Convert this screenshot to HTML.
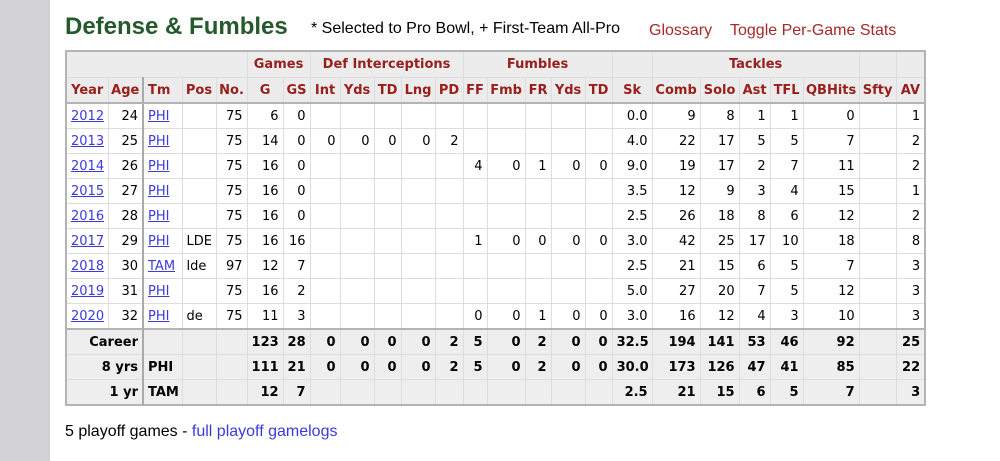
<!DOCTYPE html>
<html><head><meta charset="utf-8"><style>
body{margin:0;width:1000px;height:461px;background:#fff;position:relative;overflow:hidden;font-family:"DejaVu Sans","Liberation Sans",sans-serif;}
.bar{position:absolute;left:0;top:0;width:50px;height:461px;background:#d2d2d4;}
h2{position:absolute;left:65px;top:13px;margin:0;font:bold 24px "Liberation Sans",sans-serif;color:#245a2c;}
.note{position:absolute;left:311px;top:20px;font:16px "Liberation Sans",sans-serif;color:#000;}
.gl{position:absolute;left:649px;top:22px;font:16px "Liberation Sans",sans-serif;color:#a52a2a;}
.tg{position:absolute;left:730px;top:22px;font:16px "Liberation Sans",sans-serif;color:#a52a2a;}
table{position:absolute;left:65px;top:50px;border-collapse:collapse;table-layout:fixed;width:859px;border:2px solid #b4b4b4;font-size:13px;}
td,th{border:1px solid #ddd;padding:0 4px;height:24px;text-align:right;white-space:nowrap;overflow:hidden;}
th{background:#ececec;color:#9a1e1a;font-weight:bold;font-size:13px;padding:0 2px;}
tr.o th{text-align:center;height:25px;}
tr.h th{text-align:center;height:24px;border-bottom:2px solid #b4b4b4;}
td.l{text-align:left}
td a,td.l a{color:#3a3ae0;text-decoration:underline}
.sep{border-right:2px solid #aaa}
tr.f td{background:#eee;font-weight:bold;}
tr.f1 td{border-top:2px solid #b4b4b4}
.po{position:absolute;left:65px;top:423px;font:16px "Liberation Sans",sans-serif;}
.po a{color:#3a3ae0}
</style></head><body>
<div class="bar"></div>
<h2>Defense &amp; Fumbles</h2>
<div class="note">* Selected to Pro Bowl, + First-Team All-Pro</div>
<div class="gl">Glossary</div><div class="tg">Toggle Per-Game Stats</div>
<table>
<colgroup><col style="width:42px"><col style="width:35px"><col style="width:39px"><col style="width:34px"><col style="width:31px"><col style="width:36px"><col style="width:27px"><col style="width:30px"><col style="width:34px"><col style="width:27px"><col style="width:34px"><col style="width:28px"><col style="width:24px"><col style="width:38px"><col style="width:26px"><col style="width:34px"><col style="width:27px"><col style="width:40px"><col style="width:48px"><col style="width:39px"><col style="width:31px"><col style="width:33px"><col style="width:56px"><col style="width:37px"><col style="width:29px"></colgroup>
<tr class="o"><th colspan="5"></th><th colspan="2">Games</th><th colspan="5">Def Interceptions</th><th colspan="5">Fumbles</th><th></th><th colspan="5">Tackles</th><th></th><th></th></tr>
<tr class="h"><th>Year</th><th class="sep">Age</th><th style="text-align:left;padding-left:4px">Tm</th><th>Pos</th><th>No.</th><th>G</th><th>GS</th><th>Int</th><th>Yds</th><th>TD</th><th>Lng</th><th>PD</th><th>FF</th><th>Fmb</th><th>FR</th><th>Yds</th><th>TD</th><th>Sk</th><th>Comb</th><th>Solo</th><th>Ast</th><th>TFL</th><th>QBHits</th><th>Sfty</th><th>AV</th></tr>
<tr><td class="l"><a>2012</a></td><td class="sep">24</td><td class="l"><a>PHI</a></td><td></td><td>75</td><td>6</td><td>0</td><td></td><td></td><td></td><td></td><td></td><td></td><td></td><td></td><td></td><td></td><td>0.0</td><td>9</td><td>8</td><td>1</td><td>1</td><td>0</td><td></td><td>1</td></tr>
<tr><td class="l"><a>2013</a></td><td class="sep">25</td><td class="l"><a>PHI</a></td><td></td><td>75</td><td>14</td><td>0</td><td>0</td><td>0</td><td>0</td><td>0</td><td>2</td><td></td><td></td><td></td><td></td><td></td><td>4.0</td><td>22</td><td>17</td><td>5</td><td>5</td><td>7</td><td></td><td>2</td></tr>
<tr><td class="l"><a>2014</a></td><td class="sep">26</td><td class="l"><a>PHI</a></td><td></td><td>75</td><td>16</td><td>0</td><td></td><td></td><td></td><td></td><td></td><td>4</td><td>0</td><td>1</td><td>0</td><td>0</td><td>9.0</td><td>19</td><td>17</td><td>2</td><td>7</td><td>11</td><td></td><td>2</td></tr>
<tr><td class="l"><a>2015</a></td><td class="sep">27</td><td class="l"><a>PHI</a></td><td></td><td>75</td><td>16</td><td>0</td><td></td><td></td><td></td><td></td><td></td><td></td><td></td><td></td><td></td><td></td><td>3.5</td><td>12</td><td>9</td><td>3</td><td>4</td><td>15</td><td></td><td>1</td></tr>
<tr><td class="l"><a>2016</a></td><td class="sep">28</td><td class="l"><a>PHI</a></td><td></td><td>75</td><td>16</td><td>0</td><td></td><td></td><td></td><td></td><td></td><td></td><td></td><td></td><td></td><td></td><td>2.5</td><td>26</td><td>18</td><td>8</td><td>6</td><td>12</td><td></td><td>2</td></tr>
<tr><td class="l"><a>2017</a></td><td class="sep">29</td><td class="l"><a>PHI</a></td><td class="l">LDE</td><td>75</td><td>16</td><td>16</td><td></td><td></td><td></td><td></td><td></td><td>1</td><td>0</td><td>0</td><td>0</td><td>0</td><td>3.0</td><td>42</td><td>25</td><td>17</td><td>10</td><td>18</td><td></td><td>8</td></tr>
<tr><td class="l"><a>2018</a></td><td class="sep">30</td><td class="l"><a>TAM</a></td><td class="l">lde</td><td>97</td><td>12</td><td>7</td><td></td><td></td><td></td><td></td><td></td><td></td><td></td><td></td><td></td><td></td><td>2.5</td><td>21</td><td>15</td><td>6</td><td>5</td><td>7</td><td></td><td>3</td></tr>
<tr><td class="l"><a>2019</a></td><td class="sep">31</td><td class="l"><a>PHI</a></td><td></td><td>75</td><td>16</td><td>2</td><td></td><td></td><td></td><td></td><td></td><td></td><td></td><td></td><td></td><td></td><td>5.0</td><td>27</td><td>20</td><td>7</td><td>5</td><td>12</td><td></td><td>3</td></tr>
<tr><td class="l"><a>2020</a></td><td class="sep">32</td><td class="l"><a>PHI</a></td><td class="l">de</td><td>75</td><td>11</td><td>3</td><td></td><td></td><td></td><td></td><td></td><td>0</td><td>0</td><td>1</td><td>0</td><td>0</td><td>3.0</td><td>16</td><td>12</td><td>4</td><td>3</td><td>10</td><td></td><td>3</td></tr>
<tr class="f f1"><td colspan="2" class="sep">Career</td><td></td><td></td><td></td><td>123</td><td>28</td><td>0</td><td>0</td><td>0</td><td>0</td><td>2</td><td>5</td><td>0</td><td>2</td><td>0</td><td>0</td><td>32.5</td><td>194</td><td>141</td><td>53</td><td>46</td><td>92</td><td></td><td>25</td></tr>
<tr class="f"><td colspan="2" class="sep">8 yrs</td><td class="l">PHI</td><td></td><td></td><td>111</td><td>21</td><td>0</td><td>0</td><td>0</td><td>0</td><td>2</td><td>5</td><td>0</td><td>2</td><td>0</td><td>0</td><td>30.0</td><td>173</td><td>126</td><td>47</td><td>41</td><td>85</td><td></td><td>22</td></tr>
<tr class="f"><td colspan="2" class="sep">1 yr</td><td class="l">TAM</td><td></td><td></td><td>12</td><td>7</td><td></td><td></td><td></td><td></td><td></td><td></td><td></td><td></td><td></td><td></td><td>2.5</td><td>21</td><td>15</td><td>6</td><td>5</td><td>7</td><td></td><td>3</td></tr>
</table>
<div class="po">5 playoff games - <a>full playoff gamelogs</a></div>
</body></html>
